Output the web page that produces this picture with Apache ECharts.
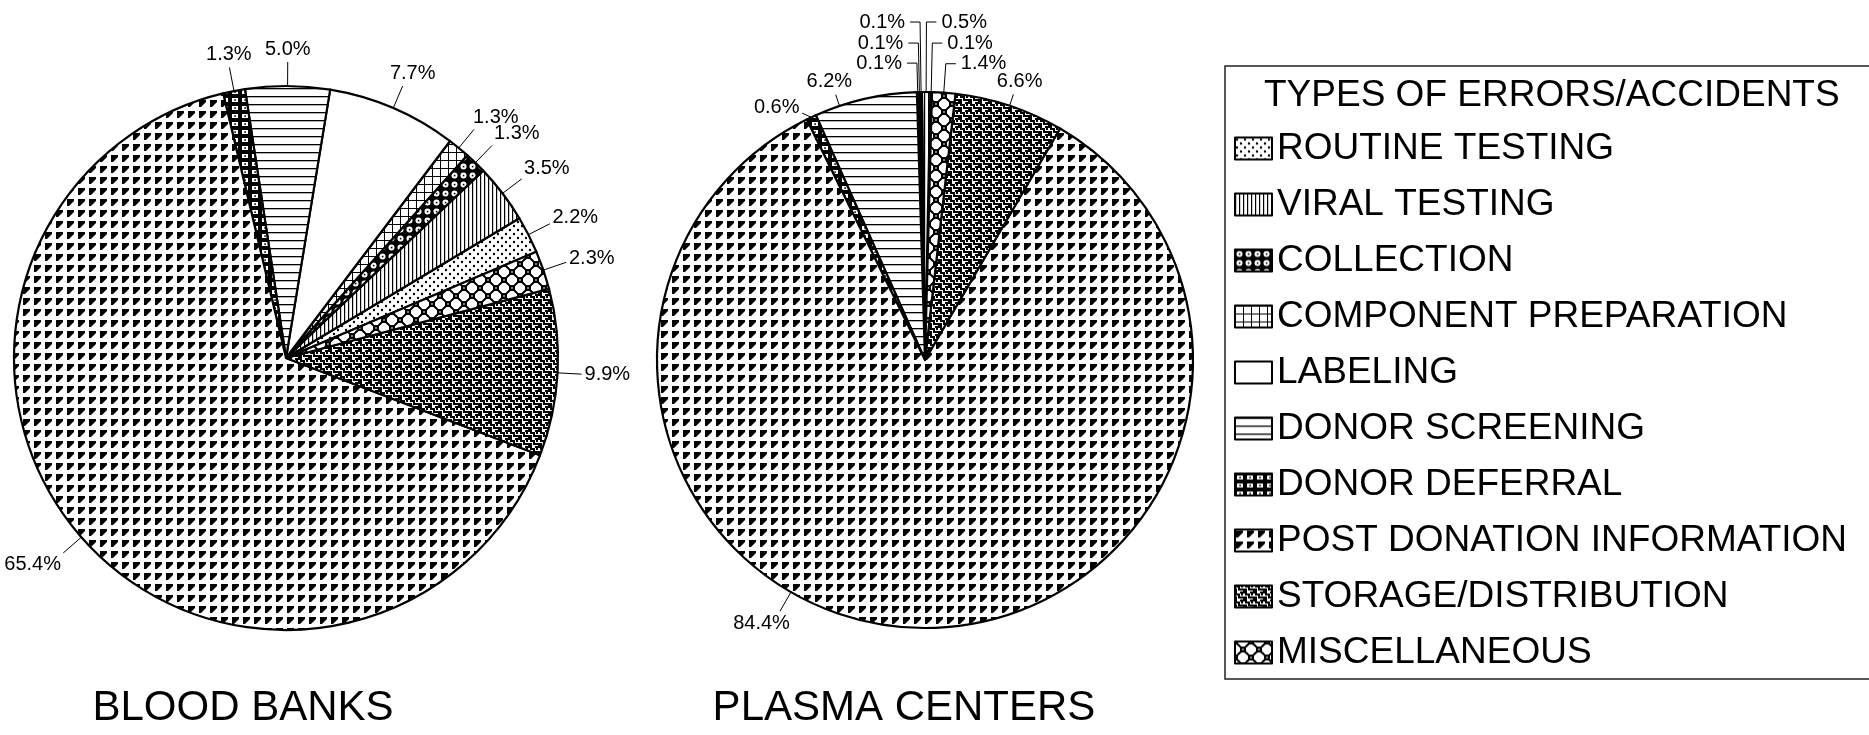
<!DOCTYPE html>
<html><head><meta charset="utf-8">
<script src="https://cdn.jsdelivr.net/npm/echarts@6/dist/echarts.min.js"></script>
<style>html,body{margin:0;padding:0;background:#fff}#c{width:1869px;height:735px}</style>
</head><body><div id="c"></div>
<script>
const categories = ['ROUTINE TESTING','VIRAL TESTING','COLLECTION','COMPONENT PREPARATION','LABELING','DONOR SCREENING','DONOR DEFERRAL','POST DONATION INFORMATION','STORAGE/DISTRIBUTION','MISCELLANEOUS'];
const bloodBanks = [2.2, 3.5, 1.3, 1.3, 7.7, 5.0, 1.3, 65.4, 9.9, 2.3];
const plasmaCenters = [0.1, 0.5, 0.1, 0.1, 0.1, 6.2, 0.6, 84.4, 6.6, 1.4];
const pieTitles = ['BLOOD BANKS', 'PLASMA CENTERS'];
const legendTitle = 'TYPES OF ERRORS/ACCIDENTS';

function tile(w, h, draw){
  const c = document.createElement('canvas'); c.width = w; c.height = h;
  const g = c.getContext('2d'); g.fillStyle = '#fff'; g.fillRect(0,0,w,h); g.fillStyle = '#000'; g.strokeStyle = '#000';
  draw(g, w, h); return {image: c, repeat: 'repeat'};
}
const patterns = [
  // routine testing: sparse dots
  tile(8,8,g=>{[[2,2],[6,6]].forEach(p=>{g.beginPath();g.arc(p[0],p[1],1.2,0,Math.PI*2);g.fill();});}),
  // viral testing: vertical lines
  tile(4,1,g=>{g.fillRect(0,0,1.2,1);}),
  // collection: black with white rings
  tile(9,9,g=>{g.fillRect(0,0,9,9);g.fillStyle='#fff';g.beginPath();g.arc(4.5,4.5,3,0,Math.PI*2);g.fill();g.fillStyle='#000';g.fillRect(3.8,3.8,1.6,1.6);}),
  // component preparation: grid
  tile(8,8,g=>{g.fillRect(0,0,8,1);g.fillRect(0,0,1,8);}),
  // labeling: plain white
  tile(4,4,g=>{}),
  // donor screening: horizontal lines
  tile(1,8,g=>{g.fillRect(0,0,1,1.3);}),
  // donor deferral: black with white blocks
  tile(10,8,g=>{g.fillRect(0,0,10,8);g.fillStyle='#fff';g.fillRect(2,2,6,4);g.fillStyle='#000';g.fillRect(4.3,3.3,1.6,1.6);}),
  // post donation information: corner triangles
  tile(11,11,g=>{g.beginPath();g.moveTo(1,1);g.lineTo(8,1);g.lineTo(8,3);g.lineTo(3,8);g.lineTo(1,8);g.closePath();g.fill();}),
  // storage/distribution: interlocking meander
  tile(10,8,g=>{g.lineWidth=2;g.beginPath();g.moveTo(0,1);g.lineTo(4,1);g.lineTo(4,4);g.lineTo(9,4);g.lineTo(9,7);g.lineTo(5,7);g.stroke();
    g.beginPath();g.moveTo(1,3);g.lineTo(1,8);g.stroke();g.fillRect(6,0,2,2);}),
  // miscellaneous: circles with square knots
  tile(16,16,g=>{g.lineWidth=1.6;[[0,8],[16,8],[8,0],[8,16]].forEach(p=>{g.beginPath();g.arc(p[0],p[1],6,0,Math.PI*2);g.stroke();});
    [[0,0],[16,0],[0,16],[16,16],[8,8]].forEach(p=>{g.fillStyle='#000';g.fillRect(p[0]-2.6,p[1]-2.6,5.2,5.2);g.fillStyle='#fff';g.fillRect(p[0]-0.7,p[1]-0.7,1.4,1.4);});})
];

// layout/style settings (not data)
const pieCfg = [
  {values: bloodBanks, center:[286,358], radius:272, start:23, lineLen:24, lineLenOverride:{}, elbow:{}, angleOverride:{}, dirOverride:{}},
  {values: plasmaCenters, center:[925,360], radius:268, start:88.5, lineLen:12, lineLenOverride:{6:10, 7:22},
   elbow:{0:49, 1:70, 2:70, 3:49, 4:29, 9:29}, angleOverride:{5:108.6, 7:240}, dirOverride:{6:155}}
];

const labelFont = '"Liberation Sans", Arial, sans-serif';
function makeData(cfg){
  return categories.map((n,i)=>{
    const d = {name:n, value:cfg.values[i], itemStyle:{color:patterns[i]}};
    if (cfg.elbow[i] !== undefined) d.labelLine = {length: cfg.elbow[i], length2: 10};
    return d;
  });
}
function radialLayout(cfg){
  const s = u => Math.min(1, Math.max(0, (Math.abs(u)-0.2)/0.5));
  return function(p){
    const i = p.dataIndex;
    if (cfg.elbow[i] !== undefined) return {};
    const pts = p.labelLinePoints; if (!pts) return {};
    let a0, ux, uy;
    const ov = cfg.angleOverride[i];
    if (ov !== undefined){
      const t = ov*Math.PI/180; ux = Math.cos(t); uy = -Math.sin(t);
      a0 = [cfg.center[0]+cfg.radius*ux, cfg.center[1]+cfg.radius*uy];
    } else {
      a0 = pts[0]; const dx = pts[1][0]-a0[0], dy = pts[1][1]-a0[1]; const L = Math.hypot(dx,dy)||1; ux = dx/L; uy = dy/L;
    }
    if (cfg.dirOverride[i] !== undefined){ const t = cfg.dirOverride[i]*Math.PI/180; ux = Math.cos(t); uy = -Math.sin(t); }
    const len = cfg.lineLenOverride[i] !== undefined ? cfg.lineLenOverride[i] : cfg.lineLen;
    const end = [a0[0]+ux*len, a0[1]+uy*len];
    const w = p.labelRect.width, h = p.labelRect.height;
    return {x: end[0] + Math.sign(ux)*(w/2)*s(ux) + ux*3, y: end[1] + Math.sign(uy)*(h/2)*s(uy) + uy*3,
      align:'center', verticalAlign:'middle', labelLinePoints:[a0, end, end]};
  };
}
function pie(cfg){
  return {type:'pie', center:cfg.center, radius:cfg.radius, startAngle:cfg.start, clockwise:false, data:makeData(cfg),
    minShowLabelAngle:0, avoidLabelOverlap:false,
    label:{show:true, position:'outside', color:'#000', fontSize:20, fontFamily:labelFont, overflow:'none',
      formatter: p => p.value.toFixed(1) + '%'},
    labelLine:{show:true, length:cfg.lineLen, length2:0, lineStyle:{color:'#000', width:1}},
    labelLayout: radialLayout(cfg),
    itemStyle:{borderColor:'#000', borderWidth:2.2}, emphasis:{disabled:true}};
}
const chart = echarts.init(document.getElementById('c'), null, {renderer:'canvas'});
chart.setOption({
  animation:false,
  backgroundColor:'#fff',
  legend:{orient:'vertical', left:1229, top:125, itemWidth:37, itemHeight:22, itemGap:19, icon:'rect',
    itemStyle:{borderColor:'#000', borderWidth:2},
    textStyle:{fontSize:37, color:'#000', fontFamily:labelFont}, data:categories, selectedMode:false},
  graphic:[
    {type:'rect', shape:{x:1225, y:66, width:700, height:613}, style:{fill:'none', stroke:'#222', lineWidth:1.5}},
    {type:'text', x:1264, y:96, style:{text:legendTitle, font:'37px '+labelFont, fill:'#000', textAlign:'left', textVerticalAlign:'middle'}},
    {type:'text', x:243, y:708, style:{text:pieTitles[0], font:'42px '+labelFont, fill:'#000', textAlign:'center', textVerticalAlign:'middle'}},
    {type:'text', x:904, y:708, style:{text:pieTitles[1], font:'42px '+labelFont, fill:'#000', textAlign:'center', textVerticalAlign:'middle'}}
  ],
  series: pieCfg.map(pie)
});
</script></body></html>
